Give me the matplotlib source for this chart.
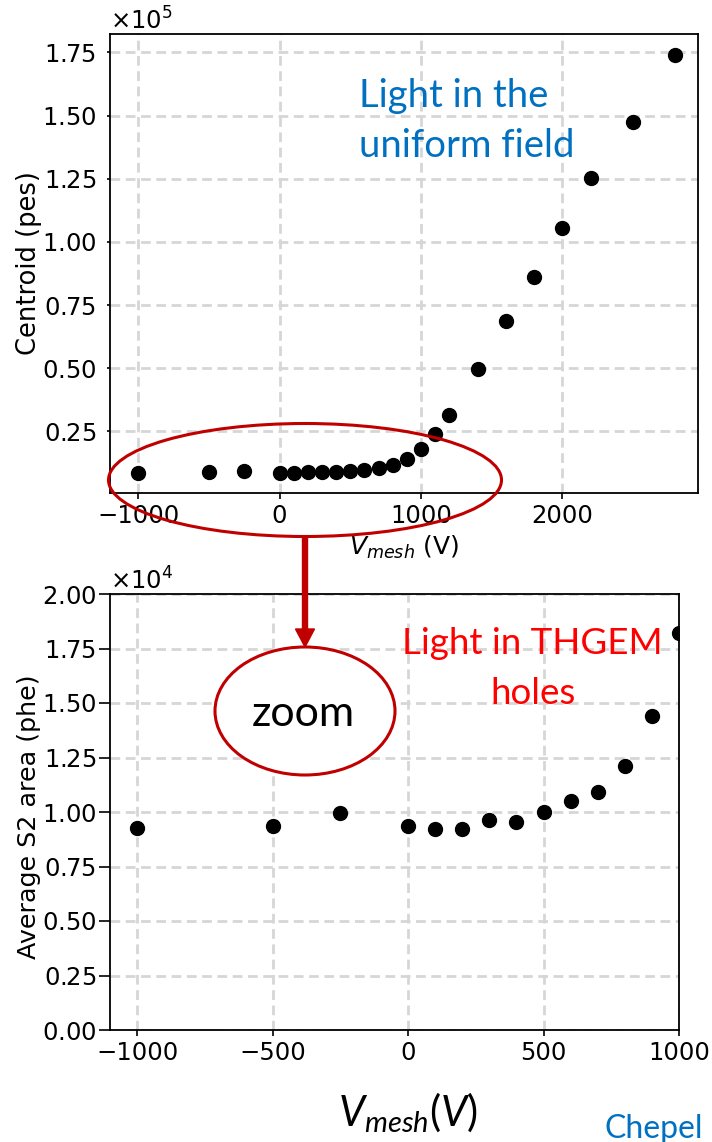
import matplotlib.pyplot as plt
from matplotlib.patches import Ellipse, FancyArrow

# Centroid vs mesh voltage (uniform field scan)
top_vmesh = [-1000, -500, -250, 0, 100, 200, 300, 400, 500, 600, 700, 800,
             900, 1000, 1100, 1200, 1400, 1600, 1800, 2000, 2200, 2500, 2800]
top_centroid = [8700, 9100, 9500, 8700, 8700, 8800, 9100, 9100, 9400, 9900,
                10300, 11800, 14000, 18000, 23900, 31600, 49600, 68500,
                86000, 105600, 125100, 147500, 173900]

# Average S2 area, zoomed range
bot_vmesh = [-1000, -500, -250, 0, 100, 200, 300, 400, 500, 600, 700, 800, 900, 1000]
bot_s2 = [9250, 9360, 9970, 9340, 9200, 9230, 9620, 9560, 10000, 10500,
          10920, 12090, 14420, 18200]

plt.rcParams['font.family'] = ['DejaVu Sans']
plt.rcParams['mathtext.fontset'] = 'dejavusans'
plt.rcParams['mathtext.rm'] = 'Lato'
plt.rcParams['mathtext.it'] = 'Lato:italic'
plt.rcParams['lines.scale_dashes'] = False

W, H = 712, 1142
fig = plt.figure(figsize=(W / 100, H / 100), dpi=100)
tr = fig.dpi_scale_trans


def px(x, y):
    # image pixel (from top-left) -> inches for dpi_scale_trans
    return x / 100, (H - y) / 100


def style_axes(ax, ylen):
    ax.set_axisbelow(True)
    ax.grid(True, color='#d6d6d6', lw=2.0, ls=(0, (7, 4)))
    ax.tick_params(labelsize=17.5, width=1.2, direction='out')
    ax.tick_params(axis='x', length=4.5)
    ax.tick_params(axis='y', length=ylen, pad=10 - ylen)
    for s in ax.spines.values():
        s.set_linewidth(1.3)
    ax.ticklabel_format(axis='y', style='sci', scilimits=(0, 0), useMathText=True)
    ax.yaxis.get_offset_text().set_fontsize(17.5)


# top panel
ax1 = fig.add_axes([110 / W, 1 - 493 / H, 588 / W, 459 / H])
ax1.plot(top_vmesh, top_centroid, 'o', color='black', ms=10)
ax1.set_xlim(-1200, 2960)
ax1.set_ylim(600, 182300)
ax1.set_xticks([-1000, 0, 1000, 2000])
ax1.set_yticks([25000, 50000, 75000, 100000, 125000, 150000, 175000])
style_axes(ax1, 2.5)
ax1.set_ylabel('Centroid (pes)', fontsize=18.5)
ax1.yaxis.set_label_coords((42 - 110) / 588, 0.5)
ax1.set_xlabel('$V_{mesh}$ (V)', fontsize=18)

# bottom panel
ax2 = fig.add_axes([110 / W, 1 - 1030 / H, 569 / W, 436 / H])
ax2.plot(bot_vmesh, bot_s2, 'o', color='black', ms=10)
ax2.set_xlim(-1100, 1000)
ax2.set_ylim(0, 20000)
ax2.set_xticks([-1000, -500, 0, 500, 1000])
ax2.set_yticks([0, 2500, 5000, 7500, 10000, 12500, 15000, 17500, 20000])
style_axes(ax2, 8)
ax2.set_ylabel('Average S2 area (phe)', fontsize=18.3)
ax2.yaxis.set_label_coords((41 - 110) / 569, 0.49)

# overlay annotations
red = '#C00000'
fig.add_artist(Ellipse(px(305, 480), 3.93, 1.13, transform=tr, fill=False,
                       ec=red, lw=2.2, zorder=10))
x0, y0 = px(305, 536)
x1, y1 = px(305, 647)
fig.add_artist(FancyArrow(x0, y0, 0, y1 - y0, width=0.05, head_width=0.19,
                          head_length=0.18, length_includes_head=True,
                          transform=tr, color=red, zorder=10))
fig.add_artist(Ellipse(px(305, 711), 1.80, 1.28, transform=tr, fc='white',
                       ec=red, lw=2.2, zorder=10))
fig.text(*px(303, 714), 'zoom', transform=tr, fontsize=31, family='Lato',
         ha='center', va='center', zorder=11)

blue = '#0070C0'
fig.text(*px(359, 107), 'Light in the', transform=tr, fontsize=27.5,
         family='Lato', color=blue, va='baseline')
fig.text(*px(359, 157), 'uniform field', transform=tr, fontsize=27.5,
         family='Lato', color=blue, va='baseline')

fig.text(*px(532, 654), 'Light in THGEM', transform=tr, fontsize=26.5,
         family='Lato', color='#FF0000', ha='center', va='baseline')
fig.text(*px(533, 704), 'holes', transform=tr, fontsize=26.5,
         family='Lato', color='#FF0000', ha='center', va='baseline')

fig.text(*px(408, 1126), '$V_{mesh}(V)$', transform=tr, fontsize=30,
         math_fontfamily='custom', ha='center', va='baseline')
fig.text(*px(604, 1138), 'Chepel', transform=tr, fontsize=23,
         family='Lato', color=blue, va='baseline')

fig.savefig('out.png', dpi=100)
